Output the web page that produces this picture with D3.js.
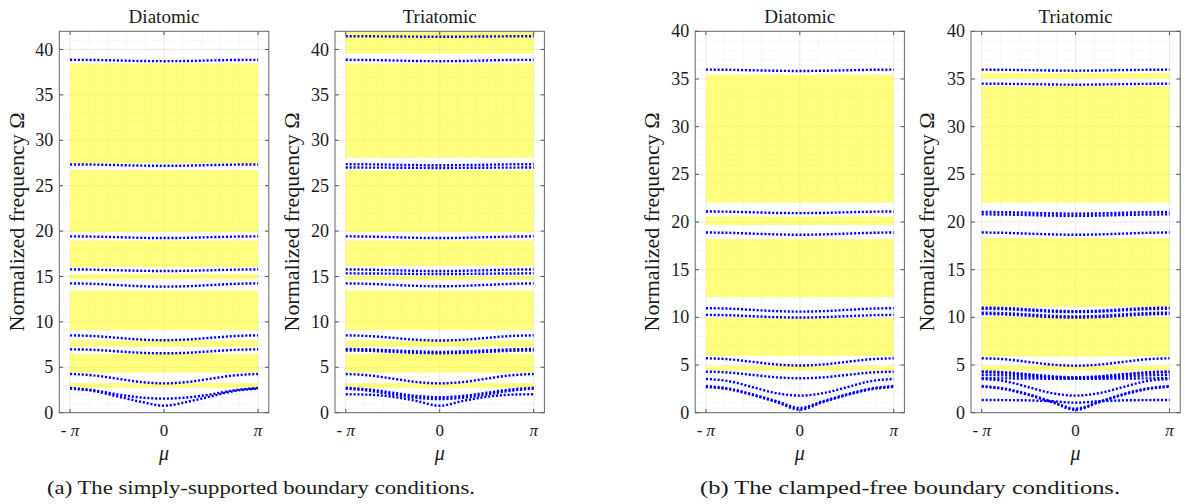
<!DOCTYPE html>
<html><head><meta charset="utf-8">
<script src="https://cdn.jsdelivr.net/npm/d3@7"></script>
<style>
body{margin:0;background:#fff}
svg{display:block}
</style>
</head><body>
<svg id="chart" width="1185" height="504"></svg>
<script>
// ---------------- DATA ----------------
// wavenumber samples, in units of pi
const muFractions = [-1, -0.75, -0.5, -0.25, 0, 0.25, 0.5, 0.75, 1];
const xTickLabels = ["- π", "0", "π"];
const yTicks = [0, 5, 10, 15, 20, 25, 30, 35, 40];
const panelTitles = ["Diatomic", "Triatomic", "Diatomic", "Triatomic"];
const captions = ["(a) The simply-supported boundary conditions.", "(b) The clamped-free boundary conditions."];
const yMaxA = 42, yMaxB = 40;

// (a) simply-supported, diatomic
const aDiaBands = [[2.75,3.25],[4.4,6.5],[7.25,7.95],[9.1,13.45],[14.7,15.25],[16.05,18.95],[19.9,26.7],[27.45,38.45]];
const aDiaCurves = [
  [2.65,2.39,1.80,1.21,0.77,1.21,1.80,2.39,2.65],
  [2.72,2.47,2.02,1.68,1.55,1.68,2.02,2.47,2.72],
  [4.26,4.11,3.75,3.38,3.23,3.38,3.75,4.11,4.26],
  [6.98,6.92,6.76,6.60,6.54,6.60,6.76,6.92,6.98],
  [8.52,8.44,8.25,8.06,7.98,8.06,8.25,8.44,8.52],
  [14.24,14.19,14.06,13.93,13.88,13.93,14.06,14.19,14.24],
  [15.78,15.75,15.69,15.63,15.60,15.63,15.69,15.75,15.78],
  [19.42,19.39,19.33,19.26,19.23,19.26,19.33,19.39,19.42],
  [27.34,27.32,27.27,27.21,27.19,27.21,27.27,27.32,27.34],
  [38.86,38.84,38.79,38.73,38.71,38.73,38.79,38.84,38.86]
];
// (a) simply-supported, triatomic
const aTriBands = [[2.75,3.25],[4.4,6.5],[7.25,7.95],[9.1,13.45],[14.6,15.05],[16.15,18.95],[19.9,26.7],[28.1,38.45],[39.55,42]];
const aTriCurves = [
  [2.03,1.98,1.75,1.30,0.77,1.30,1.75,1.98,2.03],
  [2.65,2.42,2.00,1.65,1.50,1.65,2.00,2.42,2.65],
  [2.74,2.55,2.20,1.85,1.70,1.85,2.20,2.55,2.74],
  [4.26,4.11,3.75,3.38,3.23,3.38,3.75,4.11,4.26],
  [6.85,6.81,6.70,6.59,6.55,6.59,6.70,6.81,6.85],
  [7.02,6.97,6.86,6.75,6.70,6.75,6.86,6.97,7.02],
  [8.52,8.44,8.24,8.03,7.95,8.03,8.24,8.44,8.52],
  [14.24,14.19,14.08,13.97,13.92,13.97,14.08,14.19,14.24],
  [15.34,15.33,15.31,15.28,15.27,15.28,15.31,15.33,15.34],
  [15.78,15.75,15.69,15.63,15.60,15.63,15.69,15.75,15.78],
  [19.42,19.39,19.33,19.26,19.23,19.26,19.33,19.39,19.42],
  [27.00,26.99,26.98,26.96,26.95,26.96,26.98,26.99,27.00],
  [27.37,27.35,27.31,27.27,27.25,27.27,27.31,27.35,27.37],
  [38.86,38.84,38.79,38.73,38.71,38.73,38.79,38.84,38.86],
  [41.46,41.45,41.43,41.41,41.40,41.41,41.43,41.45,41.46]
];
// (b) clamped-free, diatomic
const bDiaBands = [[4.41,4.9],[5.95,9.91],[12.12,18.2],[19.7,20.58],[22.05,35.45]];
const bDiaCurves = [
  [2.70,2.44,1.84,1.12,0.32,1.12,1.84,2.44,2.70],
  [2.80,2.52,1.92,1.22,0.50,1.22,1.92,2.52,2.80],
  [3.54,3.30,2.67,2.05,1.79,2.05,2.67,3.30,3.54],
  [4.31,4.21,3.96,3.71,3.61,3.71,3.96,4.21,4.31],
  [5.71,5.60,5.33,5.06,4.95,5.06,5.33,5.60,5.71],
  [10.26,10.22,10.12,10.02,9.98,10.02,10.12,10.22,10.26],
  [10.96,10.91,10.78,10.65,10.60,10.65,10.78,10.91,10.96],
  [18.90,18.86,18.78,18.70,18.66,18.70,18.78,18.86,18.90],
  [21.10,21.08,21.02,20.95,20.93,20.95,21.02,21.08,21.10],
  [35.98,35.96,35.91,35.86,35.84,35.86,35.91,35.96,35.98]
];
// (b) clamped-free, triatomic
const bTriBands = [[4.41,4.93],[5.9,10.05],[11.1,18.3],[22.05,34.23],[35.03,35.63]];
const bTriCurves = [
  [1.33,1.32,1.29,1.20,1.05,1.20,1.29,1.32,1.33],
  [2.73,2.45,1.86,1.09,0.30,1.09,1.86,2.45,2.73],
  [2.80,2.52,1.93,1.16,0.42,1.16,1.93,2.52,2.80],
  [3.54,3.30,2.67,2.05,1.79,2.05,2.67,3.30,3.54],
  [3.61,3.60,3.58,3.56,3.55,3.56,3.58,3.60,3.61],
  [3.96,3.91,3.79,3.67,3.62,3.67,3.79,3.91,3.96],
  [4.25,4.16,3.96,3.75,3.66,3.75,3.96,4.16,4.25],
  [4.33,4.24,4.03,3.81,3.72,3.81,4.03,4.24,4.33],
  [5.71,5.60,5.32,5.04,4.93,5.04,5.32,5.60,5.71],
  [10.35,10.30,10.17,10.03,9.98,10.03,10.17,10.30,10.35],
  [10.50,10.44,10.30,10.16,10.10,10.16,10.30,10.44,10.50],
  [10.90,10.85,10.73,10.60,10.55,10.60,10.73,10.85,10.90],
  [11.02,10.97,10.84,10.70,10.65,10.70,10.84,10.97,11.02],
  [18.90,18.86,18.78,18.70,18.66,18.70,18.78,18.86,18.90],
  [20.80,20.78,20.73,20.67,20.65,20.67,20.73,20.78,20.80],
  [21.05,21.03,20.97,20.90,20.88,20.90,20.97,21.03,21.05],
  [34.51,34.49,34.46,34.42,34.40,34.42,34.46,34.49,34.51],
  [35.98,35.96,35.93,35.89,35.87,35.89,35.93,35.96,35.98]
];

// ---------------- LAYOUT ----------------
const FONT = "'Liberation Serif', 'DejaVu Serif', serif";
const svg = d3.select("#chart").attr("font-family", FONT);
const PI = Math.PI;
const yTop = 31.3, yBot = 412.7;
const panels = [
  {x0: 59.3,  x1: 268.8, yMax: yMaxA, bands: aDiaBands, curves: aDiaCurves, title: panelTitles[0], labX: 17,  tl: 71},
  {x0: 335.0, x1: 544.4, yMax: yMaxA, bands: aTriBands, curves: aTriCurves, title: panelTitles[1], labX: 292, tl: 74},
  {x0: 695.2, x1: 904.4, yMax: yMaxB, bands: bDiaBands, curves: bDiaCurves, title: panelTitles[2], labX: 652, tl: 71},
  {x0: 971.0, x1: 1180.2, yMax: yMaxB, bands: bTriBands, curves: bTriCurves, title: panelTitles[3], labX: 927, tl: 74}
];

function txt(sel) {
  return sel.attr("font-family", FONT).attr("fill", "#1a1a1a");
}

panels.forEach((p, pi) => {
  const x = d3.scaleLinear().domain([-3.5, 3.5]).range([p.x0, p.x1]);
  const y = d3.scaleLinear().domain([0, p.yMax]).range([yBot, yTop]);
  const g = svg.append("g");
  const clipId = "clip" + pi;
  svg.append("clipPath").attr("id", clipId).append("rect")
    .attr("x", p.x0).attr("y", yTop).attr("width", p.x1 - p.x0).attr("height", yBot - yTop);

  // minor grid
  const minorX = d3.range(-5, 6).map(k => k * PI / 5).filter(v => Math.abs(v) > 1e-9 && Math.abs(Math.abs(v) - PI) > 1e-9);
  const minorY = d3.range(1, p.yMax + 1).filter(v => v % 5 !== 0 && v < p.yMax);
  g.selectAll(".mgx").data(minorX).join("line")
    .attr("x1", d => x(d)).attr("x2", d => x(d)).attr("y1", yTop).attr("y2", yBot)
    .attr("stroke", "#dedede").attr("stroke-width", 0.6).attr("stroke-dasharray", "1 1.5");
  g.selectAll(".mgy").data(minorY).join("line")
    .attr("x1", p.x0).attr("x2", p.x1).attr("y1", d => y(d)).attr("y2", d => y(d))
    .attr("stroke", "#dedede").attr("stroke-width", 0.6).attr("stroke-dasharray", "1 1.5");
  // major grid
  g.selectAll(".gx").data([-PI, 0, PI]).join("line")
    .attr("x1", d => x(d)).attr("x2", d => x(d)).attr("y1", yTop).attr("y2", yBot)
    .attr("stroke", "#e4e4e4").attr("stroke-width", 0.8);
  g.selectAll(".gy").data(yTicks.filter(v => v > 0 && v < p.yMax)).join("line")
    .attr("x1", p.x0).attr("x2", p.x1).attr("y1", d => y(d)).attr("y2", d => y(d))
    .attr("stroke", "#e4e4e4").attr("stroke-width", 0.8);

  // bands (semi-transparent yellow)
  g.append("g").attr("clip-path", `url(#${clipId})`).selectAll("rect").data(p.bands).join("rect")
    .attr("x", x(-PI)).attr("width", x(PI) - x(-PI))
    .attr("y", d => y(d[1])).attr("height", d => y(d[0]) - y(d[1]))
    .attr("fill", "#ffff00").attr("fill-opacity", 0.5);

  // dispersion curves
  const line = d3.line().x((d, i) => x(muFractions[i] * PI)).y(d => y(d)).curve(d3.curveMonotoneX);
  g.append("g").attr("clip-path", `url(#${clipId})`).selectAll("path").data(p.curves).join("path")
    .attr("d", line).attr("fill", "none").attr("stroke", "#0000ff")
    .attr("stroke-width", 2.4).attr("stroke-dasharray", "2.1 1.8");

  // box
  g.append("rect").attr("x", p.x0).attr("y", yTop).attr("width", p.x1 - p.x0).attr("height", yBot - yTop)
    .attr("fill", "none").attr("stroke", "#666").attr("stroke-width", 1);

  // ticks (inward, mirrored)
  const tl = 3.8;
  const yt = yTicks.filter(v => v <= p.yMax);
  g.selectAll(".tyl").data(yt).join("line")
    .attr("x1", p.x0).attr("x2", p.x0 + tl).attr("y1", d => y(d)).attr("y2", d => y(d)).attr("stroke", "#555");
  g.selectAll(".tyr").data(yt).join("line")
    .attr("x1", p.x1).attr("x2", p.x1 - tl).attr("y1", d => y(d)).attr("y2", d => y(d)).attr("stroke", "#555");
  g.selectAll(".txb").data([-PI, 0, PI]).join("line")
    .attr("x1", d => x(d)).attr("x2", d => x(d)).attr("y1", yBot).attr("y2", yBot - tl).attr("stroke", "#555");
  g.selectAll(".txt").data([-PI, 0, PI]).join("line")
    .attr("x1", d => x(d)).attr("x2", d => x(d)).attr("y1", yTop).attr("y2", yTop + tl).attr("stroke", "#555");

  // y tick labels
  txt(g.selectAll(".yl").data(yt).join("text"))
    .attr("x", p.x0 - 6).attr("y", d => y(d)).attr("dy", "0.34em")
    .attr("text-anchor", "end").attr("font-size", 18).text(d => d);
  // x tick labels
  const xl = txt(g.selectAll(".xl").data([-PI, 0, PI]).join("text"))
    .attr("x", d => x(d)).attr("y", 436).attr("text-anchor", "middle").attr("font-size", 17);
  xl.each(function(d, i) {
    const t = d3.select(this);
    const lab = xTickLabels[i];
    if (lab.includes("π")) {
      const pre = lab.replace("π", "");
      if (pre) t.append("tspan").text(pre);
      t.append("tspan").attr("font-style", "italic").text("π");
    } else t.text(lab);
  });
  // x label
  txt(g.append("text")).attr("x", x(0)).attr("y", 460).attr("text-anchor", "middle")
    .attr("font-size", 20).attr("font-style", "italic").text("μ");
  // y label
  txt(g.append("text")).attr("transform", `translate(${p.labX},${(yTop + yBot) / 2}) rotate(-90)`)
    .attr("text-anchor", "middle").attr("dy", "0.32em").attr("font-size", 21)
    .attr("textLength", 219).attr("lengthAdjust", "spacingAndGlyphs")
    .text("Normalized frequency Ω");
  // title
  txt(g.append("text")).attr("x", (p.x0 + p.x1) / 2).attr("y", 23).attr("text-anchor", "middle")
    .attr("font-size", 18).attr("textLength", p.tl).attr("lengthAdjust", "spacingAndGlyphs").text(p.title);
});

// captions
txt(svg.append("text")).attr("x", 261).attr("y", 494).attr("text-anchor", "middle").attr("font-size", 19)
  .attr("textLength", 428).attr("lengthAdjust", "spacingAndGlyphs").text(captions[0]);
txt(svg.append("text")).attr("x", 910).attr("y", 494).attr("text-anchor", "middle").attr("font-size", 19)
  .attr("textLength", 420).attr("lengthAdjust", "spacingAndGlyphs").text(captions[1]);
</script>
</body></html>
